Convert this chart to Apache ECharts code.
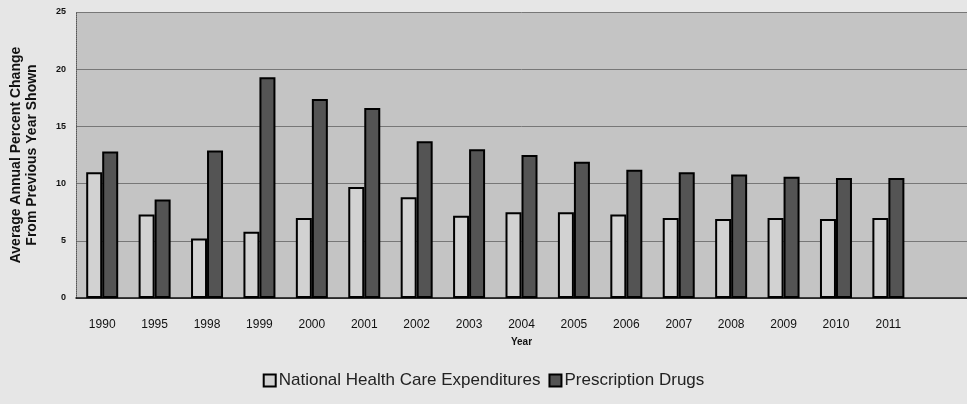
<!DOCTYPE html>
<html>
<head>
<meta charset="utf-8">
<script src="https://cdn.jsdelivr.net/npm/echarts@6/dist/echarts.min.js"></script>
<style>
  html, body { margin: 0; padding: 0; background: #e6e6e6; }
  #chart { width: 967px; height: 404px; }
</style>
</head>
<body>
<div id="chart"></div>
<script>
const years = ['1990', '1995', '1998', '1999', '2000', '2001', '2002', '2003',
  '2004', '2005', '2006', '2007', '2008', '2009', '2010', '2011', ''];
const healthCare = [11.0, 7.3, 5.2, 5.8, 7.0, 9.7, 8.8, 7.2, 7.5, 7.5, 7.3, 7.0, 6.9, 7.0, 6.9, 7.0];
const drugs = [12.8, 8.6, 12.9, 19.3, 17.4, 16.6, 13.7, 13.0, 12.5, 11.9, 11.2, 11.0, 10.8, 10.6, 10.5, 10.5];

const myChart = echarts.init(document.getElementById('chart'));

const option = {
  backgroundColor: '#e6e6e6',
  textStyle: { fontFamily: 'Liberation Sans, Arial, sans-serif', color: '#111' },
  grid: {
    left: 76, right: 0, top: 12, bottom: 106,
    show: true,
    backgroundColor: '#c4c4c4',
    borderWidth: 0
  },
  legend: {
    data: ['National Health Care Expenditures', 'Prescription Drugs'],
    bottom: 10,
    left: 'center',
    itemWidth: 12,
    itemHeight: 12,
    itemGap: 8,
    icon: 'rect',
    textStyle: { fontSize: 17, color: '#222', padding: [0, 0, 0, -2] }
  },
  xAxis: {
    type: 'category',
    data: years,
    name: 'Year',
    nameLocation: 'middle',
    nameGap: 39,
    nameTextStyle: { fontSize: 10, fontWeight: 'bold' },
    axisLine: { lineStyle: { color: '#111', width: 1.5 } },
    axisTick: { show: false },
    axisLabel: { fontSize: 12, margin: 21, color: '#111' }
  },
  yAxis: {
    type: 'value',
    min: 0,
    max: 25,
    interval: 5,
    name: 'Average Annual Percent Change\nFrom Previous Year Shown',
    nameLocation: 'middle',
    nameGap: 36,
    nameTextStyle: { fontSize: 14, fontWeight: 'bold', lineHeight: 16 },
    axisLine: { show: true, lineStyle: { color: '#555', type: 'dotted' } },
    axisTick: { show: false },
    axisLabel: { fontSize: 9, fontWeight: 'bold', margin: 10, color: '#111' },
    splitLine: { lineStyle: { color: '#777', width: 1 } }
  },
  series: [
    {
      name: 'National Health Care Expenditures',
      type: 'bar',
      data: healthCare,
      barWidth: 16,
      barGap: '0%',
      itemStyle: { color: '#d2d2d2', borderColor: '#000', borderWidth: 2 }
    },
    {
      name: 'Prescription Drugs',
      type: 'bar',
      data: drugs,
      barWidth: 16,
      itemStyle: { color: '#545454', borderColor: '#000', borderWidth: 2 }
    }
  ]
};

myChart.setOption(option);
</script>
</body>
</html>
